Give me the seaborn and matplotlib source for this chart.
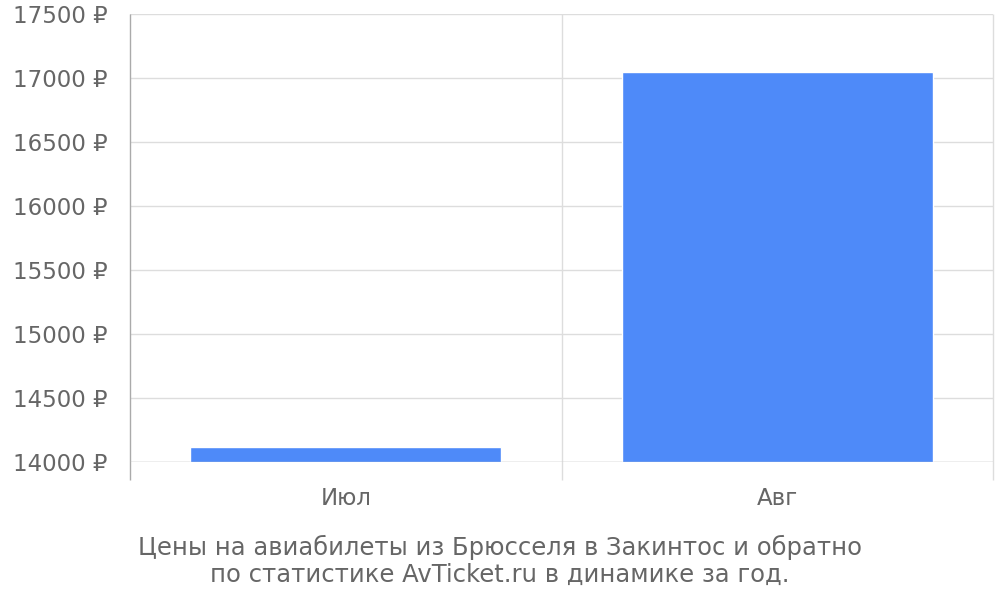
import matplotlib
matplotlib.use('Agg')
import pandas as pd
import seaborn as sns
import matplotlib.pyplot as plt

months = ['Июл', 'Авг']
prices = [14115, 17045]
y_ticks = [14000, 14500, 15000, 15500, 16000, 16500, 17000, 17500]
caption_lines = ['Цены на авиабилеты из Брюсселя в Закинтос и обратно',
                 'по статистике AvTicket.ru в динамике за год.']

df = pd.DataFrame({'month': months, 'price': prices})

sns.set_style('white')
plt.rcParams['font.family'] = ['DejaVu Sans']

fig = plt.figure(figsize=(10, 6), dpi=100)
ax = fig.add_axes([0.13, 0.23, 0.863, 0.7467])

sns.barplot(data=df, x='month', y='price', color='#4e8af9', saturation=1,
            width=0.72, ax=ax, zorder=3)

ax.set_ylim(14000, 17500)
ax.set_xlim(-0.5, 1.5)
ax.set_yticks(y_ticks)
ax.set_yticklabels([f'{v} ₽' for v in y_ticks])

# horizontal grid
for v in y_ticks:
    ax.axhline(v, color='#dddddd', lw=1, zorder=1)
# vertical lines at category boundaries, extended below the axis
ax.vlines([0.5, 1.5], -0.04, 1, transform=ax.get_xaxis_transform(),
          color='#dddddd', lw=1, clip_on=False, zorder=1)
ax.vlines([-0.5], -0.04, 1, transform=ax.get_xaxis_transform(),
          color='#aaaaaa', lw=1, clip_on=False, zorder=4)
ax.axhline(14000, color='#c8c8c8', lw=1, zorder=4)

for s in ax.spines.values():
    s.set_visible(False)

ax.tick_params(axis='y', length=14, color='#dddddd', labelsize=16.5,
               labelcolor='#666666', pad=2)
ax.tick_params(axis='x', length=0, labelsize=16.5, labelcolor='#666666', pad=18)
ax.set_xlabel('')
ax.set_ylabel('')

fig.text(0.5, 1 - 547 / 600, caption_lines[0], ha='center', va='center',
         fontsize=17.5, color='#666666')
fig.text(0.5, 1 - 575 / 600, caption_lines[1], ha='center', va='center',
         fontsize=17.5, color='#666666')

plt.savefig('out.png', dpi=100)
